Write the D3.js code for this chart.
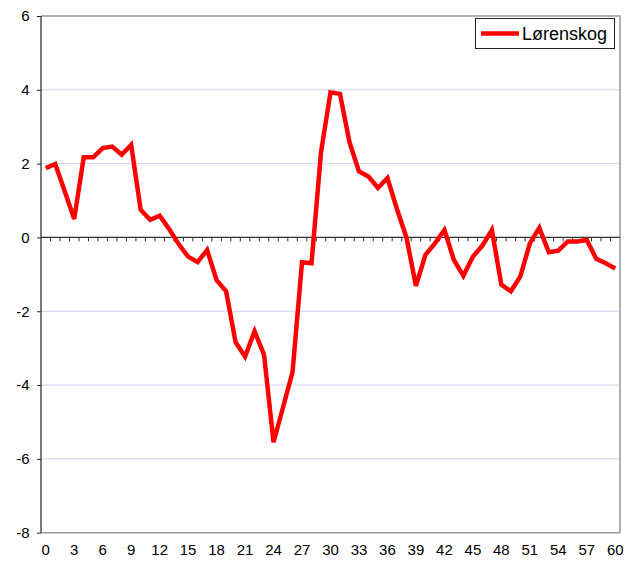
<!DOCTYPE html>
<html>
<head>
<meta charset="utf-8">
<script src="https://cdn.jsdelivr.net/npm/d3@7"></script>
<style>
  html, body { margin: 0; padding: 0; background: #fff; }
  svg { display: block; }
  text { font-family: "Liberation Sans", Arial, sans-serif; fill: #000; }
</style>
</head>
<body>
<svg id="chart" width="638" height="562"></svg>
<script>
// ---- data ----
const categories = d3.range(0, 61);
const seriesName = "Lørenskog";
const values = [
  1.88, 1.99, 1.25, 0.50, 2.17, 2.17, 2.42, 2.46, 2.24, 2.51,
  0.75, 0.48, 0.59, 0.23, -0.18, -0.52, -0.67, -0.34, -1.16, -1.46,
  -2.84, -3.23, -2.54, -3.18, -5.55, -4.60, -3.65, -0.67, -0.70, 2.31,
  3.93, 3.89, 2.58, 1.79, 1.65, 1.34, 1.61, 0.77, 0.00, -1.31,
  -0.47, -0.16, 0.20, -0.61, -1.04, -0.52, -0.22, 0.20, -1.28, -1.46,
  -1.06, -0.16, 0.26, -0.40, -0.36, -0.11, -0.11, -0.07, -0.58, -0.70,
  -0.84
];
const xTickLabels = d3.range(0, 61, 3);
const yTicks = [-8, -6, -4, -2, 0, 2, 4, 6];

// ---- layout ----
const plotLeft = 41, plotRight = 620, plotTop = 16, plotBottom = 532.7;
const svg = d3.select("#chart");

const x = d3.scaleBand().domain(categories).range([plotLeft, plotRight]).padding(0);
const bw = x.bandwidth();
const cx = i => x(i) + bw / 2;
const y = d3.scaleLinear().domain([-8, 6]).range([plotBottom, plotTop]);

// gridlines
svg.append("g").selectAll("line")
  .data(yTicks.filter(v => v !== 0 && v !== -8 && v !== 6))
  .join("line")
  .attr("x1", plotLeft).attr("x2", plotRight)
  .attr("y1", d => y(d)).attr("y2", d => y(d))
  .attr("stroke", "#d2d2f2").attr("stroke-width", 1);

// plot border (top, right, bottom) gray
svg.append("path")
  .attr("d", `M${plotLeft},${y(6)}H${plotRight}V${y(-8)}H${plotLeft}`)
  .attr("fill", "none").attr("stroke", "#999").attr("stroke-width", 1.5);

// y axis
const yAxis = d3.axisLeft(y).tickValues(yTicks).tickSize(4).tickPadding(7.5)
  .tickFormat(d => String(d));
const gy = svg.append("g").attr("transform", `translate(${plotLeft},0)`).call(yAxis);
gy.select(".domain").remove();
gy.selectAll(".tick line").attr("stroke", "#222");
gy.selectAll(".tick text")
  .style("font-family", '"Liberation Sans", Arial, sans-serif')
  .style("font-size", "15px").attr("fill", "#000");
svg.append("line")
  .attr("x1", plotLeft).attr("x2", plotLeft).attr("y1", y(6)).attr("y2", y(-8))
  .attr("stroke", "#222").attr("stroke-width", 1.2);

// zero line with category tick marks
svg.append("line")
  .attr("x1", plotLeft).attr("x2", plotRight).attr("y1", y(0)).attr("y2", y(0))
  .attr("stroke", "#333").attr("stroke-width", 1.2);
svg.append("g").selectAll("line")
  .data(categories.slice(1))
  .join("line")
  .attr("x1", d => x(d)).attr("x2", d => x(d))
  .attr("y1", y(0)).attr("y2", y(0) + 4)
  .attr("stroke", "#333").attr("stroke-width", 1);

// x labels
const xAxis = d3.axisBottom(x).tickValues(xTickLabels).tickSize(0).tickPadding(0);
const gx = svg.append("g").attr("transform", `translate(0,${plotBottom + 12})`).call(xAxis);
gx.select(".domain").remove();
gx.selectAll(".tick text")
  .style("font-family", '"Liberation Sans", Arial, sans-serif')
  .style("font-size", "15px").attr("fill", "#000").attr("dy", "0.71em");

// series line
const line = d3.line().x((d, i) => cx(categories[i])).y(d => y(d));
svg.append("path")
  .datum(values)
  .attr("d", line)
  .attr("fill", "none")
  .attr("stroke", "#ff0000")
  .attr("stroke-width", 4.5)
  .attr("stroke-linejoin", "miter");

// legend
const lg = svg.append("g");
lg.append("rect")
  .attr("x", 475.5).attr("y", 18.5).attr("width", 139).attr("height", 30)
  .attr("fill", "#fff").attr("stroke", "#222").attr("stroke-width", 1);
lg.append("line")
  .attr("x1", 481).attr("x2", 519).attr("y1", 33.5).attr("y2", 33.5)
  .attr("stroke", "#ff0000").attr("stroke-width", 4.5);
lg.append("text")
  .attr("x", 522).attr("y", 40)
  .style("font-size", "18px")
  .text(seriesName);
</script>
</body>
</html>
